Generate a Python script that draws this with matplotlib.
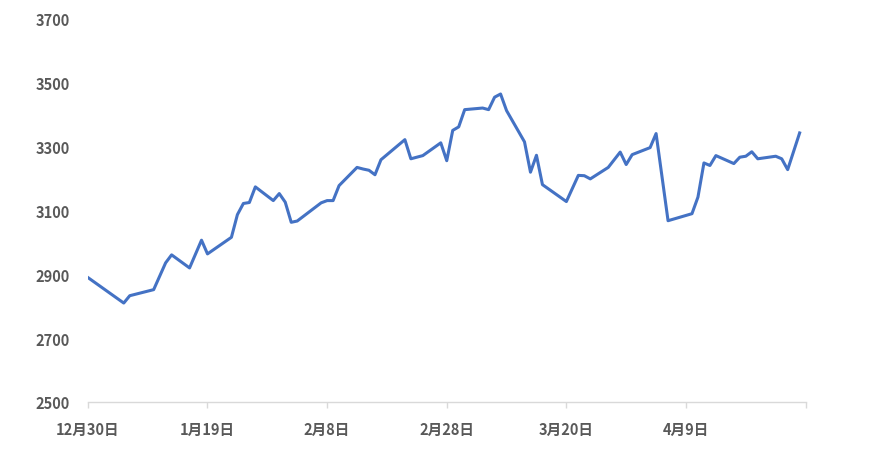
import matplotlib
matplotlib.use("Agg")
import matplotlib.pyplot as plt
import pandas as pd

plt.rcParams['font.family'] = ['Noto Sans CJK SC', 'DejaVu Sans']

dates = [
    "2018-12-30", "2019-01-05", "2019-01-06", "2019-01-10", "2019-01-12", "2019-01-13",
    "2019-01-16", "2019-01-18", "2019-01-19", "2019-01-23", "2019-01-24", "2019-01-25",
    "2019-01-26", "2019-01-27", "2019-01-30", "2019-01-31", "2019-02-01", "2019-02-02",
    "2019-02-03", "2019-02-07", "2019-02-08", "2019-02-09", "2019-02-10", "2019-02-13",
    "2019-02-14", "2019-02-15", "2019-02-16", "2019-02-17", "2019-02-21", "2019-02-22",
    "2019-02-24", "2019-02-27", "2019-02-28", "2019-03-01", "2019-03-02", "2019-03-03",
    "2019-03-06", "2019-03-07", "2019-03-08", "2019-03-09", "2019-03-10", "2019-03-13",
    "2019-03-14", "2019-03-15", "2019-03-16", "2019-03-20", "2019-03-22", "2019-03-23",
    "2019-03-24", "2019-03-27", "2019-03-29", "2019-03-30", "2019-03-31", "2019-04-03",
    "2019-04-04", "2019-04-06", "2019-04-10", "2019-04-11", "2019-04-12", "2019-04-13",
    "2019-04-14", "2019-04-17", "2019-04-18", "2019-04-19", "2019-04-20", "2019-04-21",
    "2019-04-24", "2019-04-25", "2019-04-26", "2019-04-28",
]
values = [
    2890, 2810, 2833, 2852, 2936, 2961,
    2920, 3007, 2964, 3016, 3087, 3122,
    3125, 3174, 3131, 3153, 3126, 3063,
    3067, 3124, 3131, 3131, 3178, 3235,
    3230, 3226, 3212, 3259, 3322, 3262,
    3272, 3312, 3256, 3351, 3362, 3416,
    3421, 3416, 3455, 3465, 3413, 3315,
    3220, 3273, 3181, 3128, 3210, 3209,
    3199, 3235, 3283, 3244, 3275, 3297,
    3341, 3068, 3090, 3142, 3249, 3241,
    3272, 3247, 3267, 3270, 3284, 3262,
    3270, 3262, 3228, 3343,
]
x_start = "2018-12-30"
x_end = "2019-04-29"
x_tick_dates = ["2018-12-30", "2019-01-19", "2019-02-08", "2019-02-28", "2019-03-20", "2019-04-09"]
y_ticks = [2500, 2700, 2900, 3100, 3300, 3500, 3700]

x = pd.to_datetime(dates)
start = pd.Timestamp(x_start)
end = pd.Timestamp(x_end)
xt = pd.to_datetime(x_tick_dates)

fig = plt.figure(figsize=(8.7, 4.64), dpi=100)
ax = fig.add_axes([0.101, 0.1315, 0.825, 0.8254])

ax.plot(x, values, color="#4472C4", linewidth=2.2, solid_joinstyle="round")

ax.set_xlim(start, end)
ax.set_ylim(y_ticks[0], y_ticks[-1])
ax.set_yticks(y_ticks)

ax.set_xticks(xt)
ax.set_xticklabels([f"{d.month}月{d.day}日" for d in xt])
ax.set_xticks([end], minor=True)
ax.tick_params(axis="x", which="minor", length=4, color="#d9d9d9", width=1)
ax.tick_params(axis="x", which="major", length=4, color="#d9d9d9", width=1,
               pad=10, labelsize=10.5, labelcolor="#595959")
ax.tick_params(axis="y", length=0, pad=13, labelsize=10.5, labelcolor="#595959")
for lab in ax.get_xticklabels() + ax.get_yticklabels():
    lab.set_fontweight("bold")

for s in ["top", "right", "left"]:
    ax.spines[s].set_visible(False)
ax.spines["bottom"].set_color("#d9d9d9")
ax.spines["bottom"].set_linewidth(1)

fig.savefig("out.png", dpi=100)
